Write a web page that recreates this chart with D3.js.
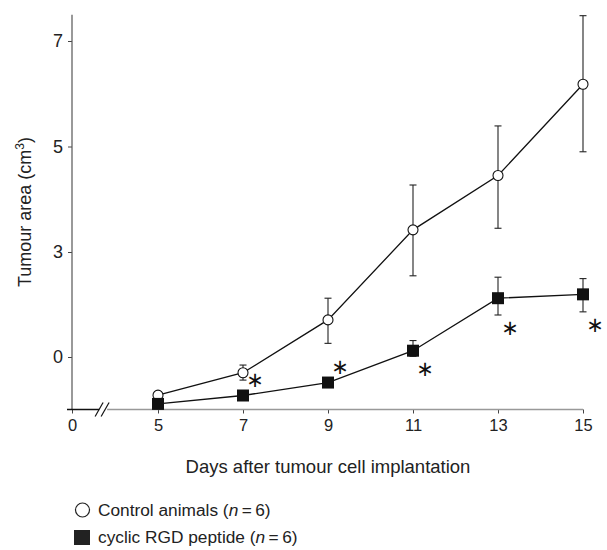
<!DOCTYPE html>
<html>
<head>
<meta charset="utf-8">
<script src="https://cdn.jsdelivr.net/npm/d3@7"></script>
<style>
  html, body { margin: 0; padding: 0; background: #fff; }
  svg { display: block; font-family: "Liberation Sans", Arial, Helvetica, sans-serif; }
</style>
</head>
<body>
<div id="chart"></div>
<script>
// ---- data ----
const days = [5, 7, 9, 11, 13, 15];
const xTicks = [0, 5, 7, 9, 11, 13, 15];
const yTicks = [0, 3, 5, 7];

// control animals: mean, lower / upper end of error bar
const ctrlMean = [-1.09, -0.45, 1.06, 3.42, 4.45, 6.18];
const ctrlLow  = [-1.09, -0.66, 0.39, 2.32, 3.45, 4.90];
const ctrlHigh = [-1.09, -0.23, 1.68, 4.27, 5.39, 7.48];

// cyclic RGD peptide
const rgdMean = [-1.34, -1.10, -0.73, 0.18, 1.68, 1.79];
const rgdLow  = [-1.34, -1.10, -0.73, 0.02, 1.20, 1.29];
const rgdHigh = [-1.34, -1.10, -0.73, 0.47, 2.28, 2.24];

// significance marks
const sigDays = [7, 9, 11, 13, 15];
const sigSide = ["above", "above", "below", "below", "below"];

const legendLabels = ["Control animals", "cyclic RGD peptide"];

// ---- layout ----
const W = 607, H = 550;
const svg = d3.select("#chart").append("svg").attr("width", W).attr("height", H);

// broken axes: piecewise scales
const x = d3.scaleLinear().domain([0, 5, 15]).range([72, 158, 583]);
const y = d3.scaleLinear().domain([-1.5, 0, 3, 5, 7]).range([409.5, 357, 252, 146.5, 41]);
const yBase = y(-1.5);

// y axis
const yAx = svg.append("g").attr("transform", `translate(${x(0)},0)`)
  .call(d3.axisLeft(y).tickValues(yTicks).tickSize(4).tickPadding(5).tickFormat(d3.format("d")));
yAx.select(".domain").remove();
yAx.selectAll(".tick line").attr("stroke", "#444");
yAx.selectAll("text").attr("font-size", 18).attr("fill", "#222");
svg.append("line")
  .attr("x1", x(0)).attr("x2", x(0))
  .attr("y1", y(7.5)).attr("y2", yBase)
  .attr("stroke", "#555").attr("stroke-width", 1.2);

// x axis
const xAx = svg.append("g").attr("transform", `translate(0,${yBase})`)
  .call(d3.axisBottom(x).tickValues(xTicks).tickSize(4).tickPadding(6).tickFormat(d3.format("d")));
xAx.select(".domain").remove();
xAx.selectAll(".tick line").attr("stroke", "#444");
xAx.selectAll("text").attr("font-size", 16.5).attr("fill", "#222");

// axis break between 0 and 5
const brk = x(1.75);
svg.append("line")
  .attr("x1", x(0) - 5).attr("x2", brk - 3)
  .attr("y1", yBase).attr("y2", yBase)
  .attr("stroke", "#111").attr("stroke-width", 1.4);
svg.append("line")
  .attr("x1", brk + 5).attr("x2", x(15))
  .attr("y1", yBase).attr("y2", yBase)
  .attr("stroke", "#999").attr("stroke-width", 1.4);
[-3, 3].forEach(o => {
  svg.append("line")
    .attr("x1", brk + o - 4).attr("y1", yBase + 7)
    .attr("x2", brk + o + 4).attr("y2", yBase - 7)
    .attr("stroke", "#111").attr("stroke-width", 1.2);
});

// axis titles
svg.append("text")
  .attr("transform", `translate(31,${(y(7.5) + yBase) / 2}) rotate(-90)`)
  .attr("text-anchor", "middle").attr("font-size", 18).attr("fill", "#222")
  .html('Tumour area (cm<tspan dy="-7" font-size="12">3</tspan><tspan dy="7">)</tspan>');

svg.append("text")
  .attr("x", 328).attr("y", 473)
  .attr("text-anchor", "middle").attr("font-size", 18.5).attr("fill", "#222")
  .text("Days after tumour cell implantation");

// ---- series ----
const line = d3.line().x(d => x(d[0])).y(d => y(d[1]));

function errorBars(low, high) {
  const g = svg.append("g").attr("stroke", "#222").attr("stroke-width", 1.1);
  days.forEach((d, i) => {
    if (high[i] - low[i] < 0.01) return;
    const cx = x(d);
    g.append("line").attr("x1", cx).attr("x2", cx).attr("y1", y(low[i])).attr("y2", y(high[i]));
    [low[i], high[i]].forEach(v => {
      g.append("line").attr("x1", cx - 3.5).attr("x2", cx + 3.5).attr("y1", y(v)).attr("y2", y(v));
    });
  });
}

errorBars(ctrlLow, ctrlHigh);
errorBars(rgdLow, rgdHigh);

svg.append("path").datum(days.map((d, i) => [d, ctrlMean[i]]))
  .attr("d", line).attr("fill", "none").attr("stroke", "#111").attr("stroke-width", 1.3);
svg.append("path").datum(days.map((d, i) => [d, rgdMean[i]]))
  .attr("d", line).attr("fill", "none").attr("stroke", "#111").attr("stroke-width", 1.3);

svg.append("g").selectAll("circle").data(days).join("circle")
  .attr("cx", d => x(d)).attr("cy", (d, i) => y(ctrlMean[i])).attr("r", 5)
  .attr("fill", "#fff").attr("stroke", "#111").attr("stroke-width", 1.1);

svg.append("g").selectAll("rect").data(days).join("rect")
  .attr("x", d => x(d) - 6).attr("y", (d, i) => y(rgdMean[i]) - 6)
  .attr("width", 12).attr("height", 12).attr("fill", "#111");

// asterisks (six-armed, like the original)
const starSize = 21;
sigDays.forEach((d, j) => {
  const i = days.indexOf(d);
  const cy = sigSide[j] === "above"
    ? y(rgdMean[i]) - 15
    : Math.max(y(rgdLow[i]), y(rgdMean[i]) + 6) + 13;
  svg.append("text")
    .attr("x", x(d) + 12).attr("y", cy + 0.32 * starSize)
    .attr("text-anchor", "middle").attr("font-family", "DejaVu Sans")
    .attr("font-size", starSize).attr("fill", "#111")
    .text("\u2217");
});

// ---- legend ----
const lg = svg.append("g").attr("font-size", 17.3).attr("fill", "#222");
lg.append("circle").attr("cx", 82.5).attr("cy", 510).attr("r", 7)
  .attr("fill", "#fff").attr("stroke", "#222").attr("stroke-width", 1.2);
lg.append("rect").attr("x", 74).attr("y", 530).attr("width", 16).attr("height", 15).attr("fill", "#222");
[516, 543].forEach((yy, k) => {
  lg.append("text").attr("x", 98).attr("y", yy)
    .html(`${legendLabels[k]} (<tspan font-style="italic">n</tspan>\u2009=\u20096)`);
});
</script>
</body>
</html>
